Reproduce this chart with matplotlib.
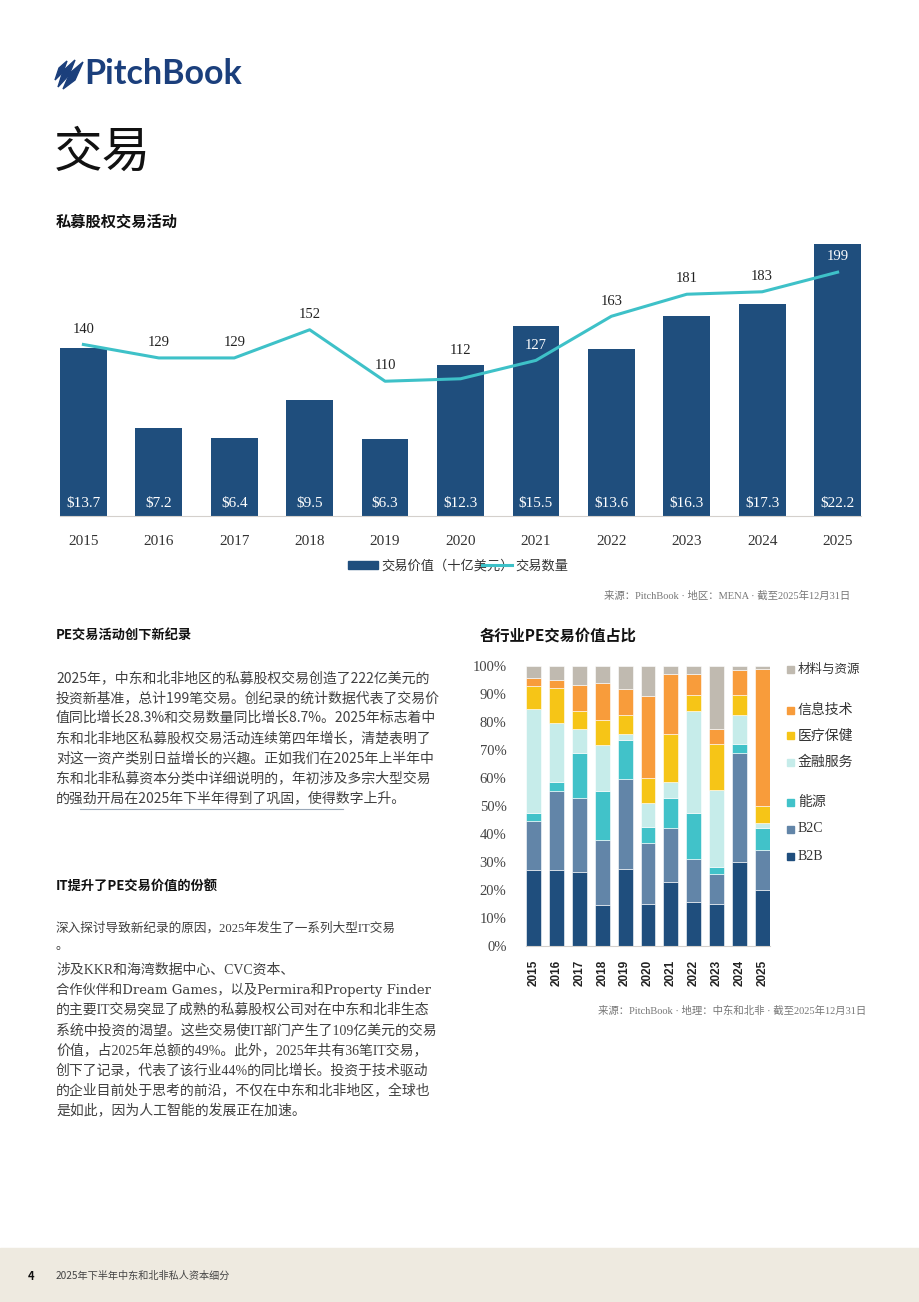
import numpy as np
import matplotlib
matplotlib.use("Agg")
import matplotlib.pyplot as plt
from matplotlib.patches import Polygon, Rectangle

# ---- data ----
years = ['2015', '2016', '2017', '2018', '2019', '2020', '2021', '2022', '2023', '2024', '2025']
deal_value = [13.7, 7.2, 6.4, 9.5, 6.3, 12.3, 15.5, 13.6, 16.3, 17.3, 22.2]   # 十亿美元
deal_count = [140, 129, 129, 152, 110, 112, 127, 163, 181, 183, 199]

# 各行业占比 (%), 从下到上
sectors = ['B2B', 'B2C', '能源', '金融服务', '医疗保健', '信息技术', '材料与资源']
share_b2b = [27.1, 27.1, 26.5, 14.5, 27.5, 15.0, 22.9, 15.7, 15.0, 30.0, 20.0]
share_b2c = [17.7, 28.1, 26.4, 23.4, 32.1, 21.9, 19.1, 15.4, 10.7, 38.9, 14.4]
share_energy = [2.8, 3.4, 15.9, 17.3, 14.1, 5.6, 10.7, 16.5, 2.4, 3.4, 7.6]
share_fin = [37.2, 21.0, 8.6, 16.6, 1.9, 8.6, 5.9, 36.2, 27.6, 10.1, 1.8]
share_health = [8.1, 12.7, 6.4, 8.8, 6.8, 8.9, 17.1, 6.0, 16.3, 7.4, 6.1]
share_it = [2.9, 2.7, 9.4, 13.4, 9.5, 29.2, 21.3, 7.5, 5.6, 8.7, 49.1]
share_mat = [4.2, 5.0, 6.8, 6.0, 8.1, 10.8, 3.0, 2.7, 22.4, 1.5, 1.0]
shares = [share_b2b, share_b2c, share_energy, share_fin, share_health, share_it, share_mat]
sector_colors = ['#1f4e7d', '#6285a8', '#41c2c9', '#c6ecea', '#f6c517', '#f89c3b', '#c0bab0']

NAVY = '#1f4e7d'
TEAL = '#3ec1c8'
CJK = 'Noto Sans CJK SC'
SERIF = ['Liberation Serif', 'Noto Sans CJK SC']

plt.rcParams['font.family'] = [CJK, 'DejaVu Sans']

W, H = 920, 1302
fig = plt.figure(figsize=(W / 100, H / 100), dpi=100)


def fx(x):
    return x / W


def fy(y):
    return 1 - y / H


def rect(l, t, r, b):
    return [fx(l), fy(b), (r - l) / W, (b - t) / H]


def txt(x, y, s, **kw):
    kw.setdefault('va', 'center')
    fig.text(fx(x), fy(y), s, **kw)


# ---- logo ----
logo_col = '#1b3f7c'
sails = [
    [(55, 80), (59, 68), (67, 61), (63, 72)],
    [(58, 87), (63, 71), (75, 60), (69, 75)],
    [(63, 89), (70, 73), (83, 62), (75, 80)],
]
for pts in sails:
    fig.patches.append(Polygon([(fx(a), fy(b)) for a, b in pts], closed=True,
                               transform=fig.transFigure, color=logo_col))
txt(84, 74, 'PitchBook', fontsize=24.5, color=logo_col, family='Lato', weight='bold')

# ---- titles ----
txt(54, 153, '交易', fontsize=35, color='#111111', weight='light')
txt(56, 222, '私募股权交易活动', fontsize=11, weight='bold', color='#111111')

# ---- chart 1: bars + line ----
ax = fig.add_axes(rect(60, 244, 861, 516))
x = np.arange(len(years))
ax.bar(x, deal_value, width=0.62, color=NAVY, zorder=2)
ax.set_xlim(-0.31, len(years) - 0.69)
ax.set_ylim(0, 22.2)
for i, v in enumerate(deal_value):
    ax.text(i, 1.05, f'${v}', ha='center', va='center', color='white',
            fontsize=11, family=SERIF, zorder=4)
for s in ['top', 'right', 'left']:
    ax.spines[s].set_visible(False)
ax.spines['bottom'].set_color('#d4d0cc')
ax.set_yticks([])
ax.set_xticks(x)
ax.set_xticklabels(years, family=SERIF, fontsize=11, color='#333333')
ax.tick_params(axis='x', length=0, pad=14)

ax2 = ax.twinx()
ax2.set_ylim(0, 222)
ax2.plot(x, deal_count, color=TEAL, lw=2.2, zorder=3)
ax2.axis('off')
for i, c in enumerate(deal_count):
    top = deal_value[i] * 10
    if top - c > 15:          # label sits inside the bar
        base, col = c, 'white'
    elif top > c:             # line just under the bar top: label above bar
        base, col = top, '#222222'
    else:
        base, col = c, '#222222'
    ax2.annotate(str(c), (i, base), xytext=(0, 11), textcoords='offset points',
                 ha='center', va='center', fontsize=10.5, family=SERIF, color=col,
                 annotation_clip=False)

h1 = Rectangle((0, 0), 1, 1, color=NAVY)
h2, = ax.plot([], [], color=TEAL, lw=2.2)
leg = ax.legend([h1, h2], ['交易价值（十亿美元）', '交易数量'], ncol=2, frameon=False,
                loc='center', bbox_to_anchor=(fx(458), fy(566)), bbox_transform=fig.transFigure,
                fontsize=9.5, handlelength=2.3, handleheight=0.5, handletextpad=0.2,
                columnspacing=-2.4)
for t in leg.get_texts():
    t.set_color('#333333')

txt(850, 596, '来源：PitchBook · 地区：MENA · 截至2025年12月31日', ha='right',
    fontsize=7.5, color='#777777', family=SERIF)

# ---- left column text ----
txt(56, 635, 'PE交易活动创下新纪录', fontsize=9.5, weight='bold', color='#111111')
para1 = [
    '2025年，中东和北非地区的私募股权交易创造了222亿美元的',
    '投资新基准，总计199笔交易。创纪录的统计数据代表了交易价',
    '值同比增长28.3%和交易数量同比增长8.7%。2025年标志着中',
    '东和北非地区私募股权交易活动连续第四年增长，清楚表明了',
    '对这一资产类别日益增长的兴趣。正如我们在2025年上半年中',
    '东和北非私募资本分类中详细说明的，年初涉及多宗大型交易',
    '的强劲开局在2025年下半年得到了巩固，使得数字上升。',
]
for k, line in enumerate(para1):
    txt(56, 678 + 20 * k, line, fontsize=10, color='#404040')
fig.add_artist(plt.Line2D([fx(80), fx(343)], [fy(809), fy(809)], color='#9aa8b8', lw=0.8))

txt(56, 886, 'IT提升了PE交易价值的份额', fontsize=9.5, weight='bold', color='#111111')
txt(56, 928, '深入探讨导致新纪录的原因，2025年发生了一系列大型IT交易', fontsize=9.1,
    color='#404040', family=SERIF)
txt(56, 946, '。', fontsize=9.1, color='#404040', family=SERIF)
para2 = [
    '涉及KKR和海湾数据中心、CVC资本、',
    '合作伙伴和Dream Games，以及Permira和Property Finder',
    '的主要IT交易突显了成熟的私募股权公司对在中东和北非生态',
    '系统中投资的渴望。这些交易使IT部门产生了109亿美元的交易',
    '价值，占2025年总额的49%。此外，2025年共有36笔IT交易，',
    '创下了记录，代表了该行业44%的同比增长。投资于技术驱动',
    '的企业目前处于思考的前沿，不仅在中东和北非地区，全球也',
    '是如此，因为人工智能的发展正在加速。',
]
for k, line in enumerate(para2):
    if 'Dream' in line:
        fam, fs = ['DejaVu Serif', CJK], 9.5
    else:
        fam, fs = SERIF, 10
    txt(56, 970 + 20 * k, line, fontsize=fs, color='#404040', family=fam)

# ---- chart 2: stacked share ----
txt(480, 636, '各行业PE交易价值占比', fontsize=11, weight='bold', color='#111111')
bx = fig.add_axes(rect(526, 666, 770, 946))
bottom = np.zeros(len(years))
for vals, col in zip(shares, sector_colors):
    bx.bar(x, vals, bottom=bottom, width=0.65, color=col, edgecolor='white', linewidth=0.4)
    bottom += np.array(vals)
bx.set_xlim(-0.33, len(years) - 0.67)
bx.set_ylim(0, 100)
for s in ['top', 'right', 'left']:
    bx.spines[s].set_visible(False)
bx.spines['bottom'].set_color('#d4d0cc')
bx.set_yticks(range(0, 101, 10))
bx.set_yticklabels([f'{p}%' for p in range(0, 101, 10)], family=SERIF, fontsize=10.5, color='#444444')
bx.set_xticks(x)
bx.set_xticklabels(years, rotation=90, family='Liberation Sans', weight='bold', fontsize=8.5,
                   color='#222222')
bx.tick_params(axis='y', length=0, pad=14)
bx.tick_params(axis='x', length=0, pad=10)

# legend, top entry first, with the gaps used in the report
leg_y = [856, 829, 802, 762, 736, 710, 670]
for name, col, yy in zip(sectors, sector_colors, leg_y):
    fig.patches.append(Rectangle((fx(787), fy(yy + 3.5)), 7 / W, 7 / H, transform=fig.transFigure,
                                 color=col))
    fs = 9 if name == '材料与资源' else 10
    txt(798, yy, name, fontsize=fs, color='#333333', family=SERIF)

txt(866, 1011, '来源：PitchBook · 地理：中东和北非 · 截至2025年12月31日', ha='right',
    fontsize=7.5, color='#777777', family=SERIF)

# ---- footer ----
fig.patches.append(Rectangle((0, 0), 1, (H - 1248) / H, transform=fig.transFigure,
                             color='#eeeae0', zorder=0))
txt(28, 1276, '4', fontsize=8, weight='bold', color='#111111')
txt(56, 1276, '2025年下半年中东和北非私人资本细分', fontsize=7.3, color='#444444')

fig.savefig('out.png', dpi=100, facecolor='white')
